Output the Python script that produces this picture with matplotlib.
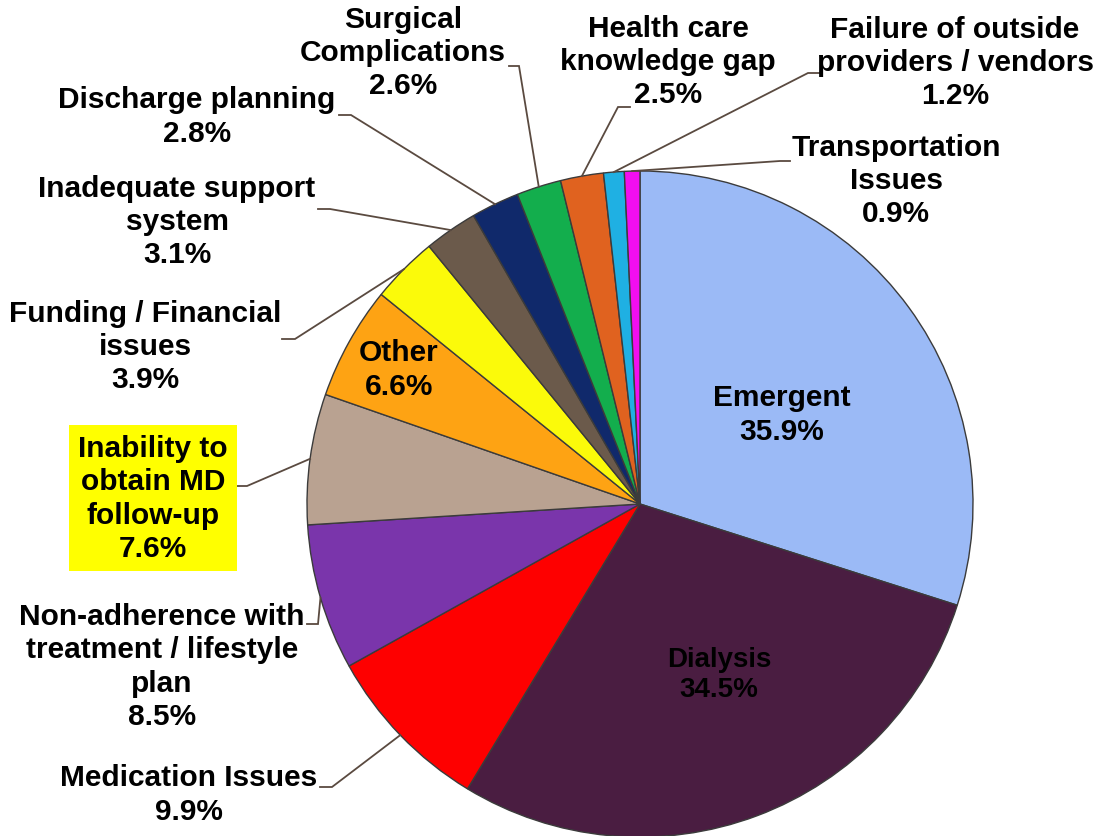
import numpy as np
import matplotlib.pyplot as plt

plt.rcParams['font.family'] = ['Liberation Sans', 'DejaVu Sans']

categories = ['Emergent', 'Dialysis', 'Medication Issues',
              'Non-adherence with treatment / lifestyle plan',
              'Inability to obtain MD follow-up', 'Other',
              'Funding / Financial issues', 'Inadequate support system',
              'Discharge planning', 'Surgical Complications',
              'Health care knowledge gap',
              'Failure of outside providers / vendors',
              'Transportation Issues']
pct = [35.9, 34.5, 9.9, 8.5, 7.6, 6.6, 3.9, 3.1, 2.8, 2.6, 2.5, 1.2, 0.9]
label_lines = ['Emergent', 'Dialysis', 'Medication Issues',
               'Non-adherence with\ntreatment / lifestyle\nplan',
               'Inability to\nobtain MD\nfollow-up', 'Other',
               'Funding / Financial\nissues', 'Inadequate support\nsystem',
               'Discharge planning', 'Surgical\nComplications',
               'Health care\nknowledge gap',
               'Failure of outside\nproviders / vendors',
               'Transportation\nIssues']
colors = ['#9bbaf6', '#4a1d41', '#fe0000', '#7a35ab', '#b9a291', '#fea313',
          '#fbfa0a', '#6b5a4b', '#10296b', '#13ae4d', '#e0621f', '#1fb0e3',
          '#f20ef0']

W, H = 1096, 837
cx, cy, R = 640, 505, 333

fig = plt.figure(figsize=(W / 100, H / 100), dpi=100)
ax = fig.add_axes([0, 0, 1, 1])
wedges, _ = ax.pie(pct, colors=colors, startangle=-90, counterclock=True,
                   center=(cx, cy), radius=R,
                   wedgeprops=dict(edgecolor='#3b3b3b', linewidth=1.0))
ax.set_xlim(0, W)
ax.set_ylim(H, 0)
ax.axis('off')

# label centre, and for outside labels: (line start x, elbow x, line y)
label_pos = {
    0: (782, 415), 1: (719, 675), 2: (189, 795), 3: (162, 667),
    4: (153, 499), 5: (399, 370), 6: (145, 347), 7: (177, 222),
    8: (197, 117), 9: (403, 53), 10: (668, 62), 11: (955, 63),
    12: (896, 181),
}
leaders = {
    2: (320, 332, 788), 3: (307, 318, 625), 4: (237, 247, 487),
    6: (282, 295, 340), 7: (318, 330, 210), 8: (339, 351, 116),
    9: (509, 519, 67), 10: (630, 618, 108), 11: (820, 808, 74),
    12: (790, 780, 162),
}

for i, w in enumerate(wedges):
    txt = label_lines[i] + '\n' + f'{pct[i]:.1f}%'
    x, y = label_pos[i]
    kw = dict(ha='center', va='center', fontsize=21.5, fontweight='bold',
              linespacing=1.24, color='black')
    if i == 1:
        kw['fontsize'] = 20
    if i == 4:
        kw['bbox'] = dict(boxstyle='square,pad=0.3', facecolor='#ffff00',
                          edgecolor='none')
    ax.text(x, y, txt, **kw)
    if i in leaders:
        x0, xe, ly = leaders[i]
        mid = np.deg2rad((w.theta1 + w.theta2) / 2)
        px = cx + R * np.cos(mid)
        py = cy + R * np.sin(mid)
        ax.plot([x0, xe, px], [ly, ly, py], color='#5a4a40', lw=1.3,
                solid_joinstyle='miter')

fig.savefig('out.png', dpi=100)
